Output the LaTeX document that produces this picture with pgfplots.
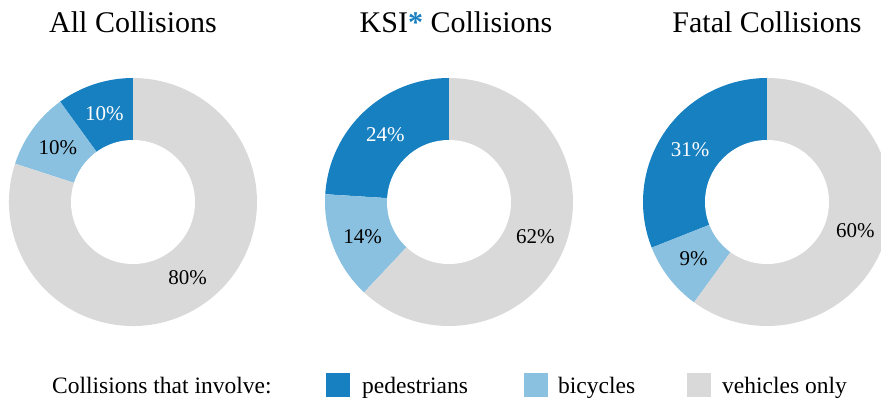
\documentclass[border=0pt]{standalone}
\usepackage{pgfplots}
\pgfplotsset{compat=1.18}
\usepackage{pgfplotstable}
\usepackage{fontspec}
\setmainfont{Liberation Serif}

\definecolor{pedc}{HTML}{1780C1}
\definecolor{bicc}{HTML}{8BC1E0}
\definecolor{vehc}{HTML}{D9D9D9}

% shares in percent, one row per donut
\pgfplotstableread{
group pedestrians bicycles vehicles
All   10 10 80
KSI   24 14 62
Fatal 31  9 60
}\collisions

\newcommand\donut[2]{% #1 = centre x (px), #2 = row
  \pgfplotstablegetelem{#2}{pedestrians}\of\collisions \edef\vp{\pgfplotsretval}%
  \pgfplotstablegetelem{#2}{bicycles}\of\collisions \edef\vb{\pgfplotsretval}%
  \pgfplotstablegetelem{#2}{vehicles}\of\collisions \edef\vv{\pgfplotsretval}%
  \pgfmathsetmacro\aA{90+3.6*\vp}%
  \pgfmathsetmacro\aB{\aA+3.6*\vb}%
  \pgfmathsetmacro\mA{(90+\aA)/2}%
  \pgfmathsetmacro\mB{(\aA+\aB)/2}%
  \pgfmathsetmacro\mC{(\aB+450)/2}%
  \edef\temp{%
    \noexpand\fill[pedc] (axis cs:#1,202) -- ++(90:124pt) arc[start angle=90,end angle=\aA,radius=124pt] -- cycle;
    \noexpand\fill[bicc] (axis cs:#1,202) -- ++(\aA:124pt) arc[start angle=\aA,end angle=\aB,radius=124pt] -- cycle;
    \noexpand\fill[vehc] (axis cs:#1,202) -- ++(\aB:124pt) arc[start angle=\aB,end angle=450,radius=124pt] -- cycle;
    \noexpand\fill[white] (axis cs:#1,202) circle[radius=62pt];
    \noexpand\path (axis cs:#1,202) ++(\mA:93pt) node[lab,text=white]{\vp\noexpand\%};
    \noexpand\path (axis cs:#1,202) ++(\mB:93pt) node[lab]{\vb\noexpand\%};
    \noexpand\path (axis cs:#1,202) ++(\mC:93pt) node[lab]{\vv\noexpand\%};
  }\temp
}

\begin{document}
\begin{tikzpicture}[
  lab/.style={font=\fontsize{21}{24}\selectfont, inner sep=0pt},
  ttl/.style={font=\fontsize{30}{36}\selectfont, inner sep=0pt, anchor=base},
  leg/.style={font=\fontsize{23.5}{28}\selectfont, inner sep=0pt, anchor=base west}]
\begin{axis}[width=881pt, height=400pt, scale only axis,
  xmin=0, xmax=881, ymin=0, ymax=400, y dir=reverse,
  hide axis, clip=true]
\coordinate (bl) at (axis cs:0,400);
\coordinate (tr) at (axis cs:881,0);

\donut{133}{0}
\donut{449}{1}
\donut{767}{2}

\node[ttl] at (axis cs:133,32) {All Collisions};
\node[ttl] at (axis cs:456,32) {KSI{\color{pedc}\textbf{*}} Collisions};
\node[ttl] at (axis cs:767,32) {Fatal Collisions};

\node[leg] at (axis cs:52,393) {Collisions that involve:};
\fill[pedc] (axis cs:326,373) rectangle (axis cs:350,397);
\node[leg] at (axis cs:362,393) {pedestrians};
\fill[bicc] (axis cs:524,373) rectangle (axis cs:548,397);
\node[leg] at (axis cs:558,393) {bicycles};
\fill[vehc] (axis cs:687,373) rectangle (axis cs:711,397);
\node[leg] at (axis cs:722,393) {vehicles only};
\end{axis}
\pgfresetboundingbox
\path[use as bounding box] (bl) rectangle (tr);
\end{tikzpicture}
\end{document}
